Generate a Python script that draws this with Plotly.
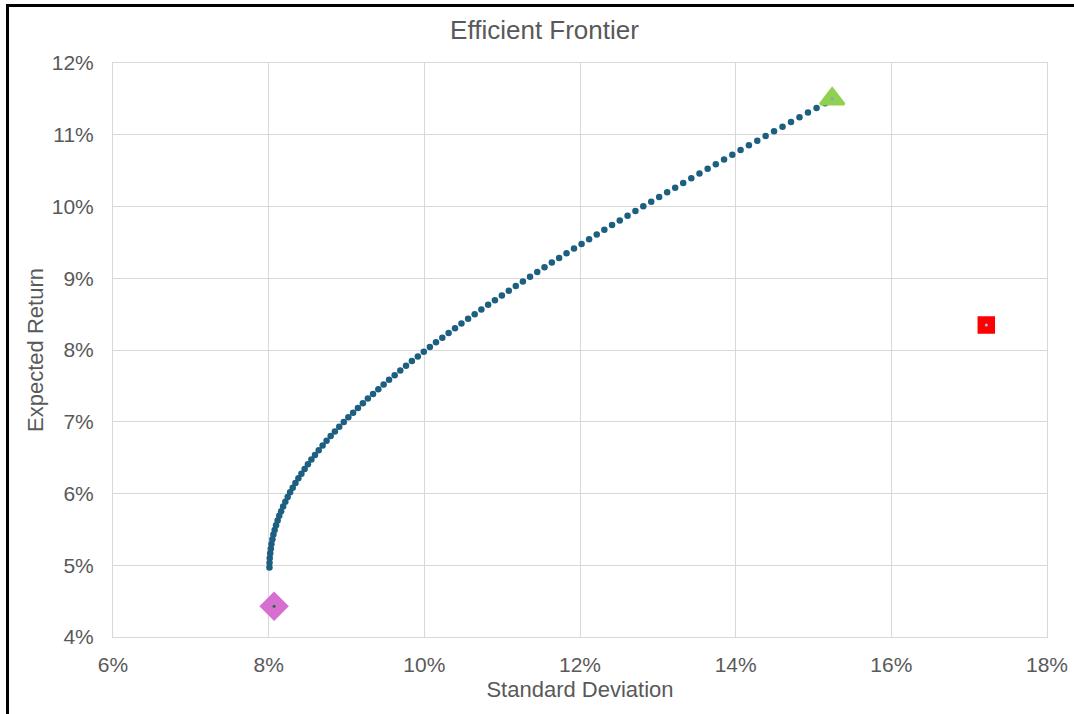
import plotly.graph_objects as go

# Efficient frontier points (values in percent)
frontier_std = [
    8.010, 8.011, 8.014, 8.020, 8.027, 8.036, 8.048, 8.061, 8.077, 8.095,
    8.115, 8.136, 8.160, 8.186, 8.214, 8.244, 8.275, 8.309, 8.344, 8.382,
    8.421, 8.462, 8.504, 8.549, 8.595, 8.643, 8.693, 8.744, 8.797, 8.851,
    8.907, 8.965, 9.024, 9.085, 9.147, 9.210, 9.275, 9.341, 9.409, 9.477,
    9.547, 9.619, 9.691, 9.765, 9.840, 9.916, 9.993, 10.071, 10.150, 10.231,
    10.312, 10.394, 10.477, 10.562, 10.647, 10.733, 10.820, 10.907, 10.996, 11.085,
    11.175, 11.266, 11.358, 11.451, 11.544, 11.638, 11.732, 11.827, 11.923, 12.020,
    12.117, 12.215, 12.313, 12.412, 12.511, 12.611, 12.712, 12.813, 12.915, 13.017,
    13.120, 13.223, 13.326, 13.430, 13.535, 13.640, 13.745, 13.851, 13.957, 14.063,
    14.170, 14.278, 14.385, 14.493, 14.602, 14.711, 14.820, 14.929, 15.039, 15.149,
]
frontier_ret = [
    4.970, 5.035, 5.101, 5.166, 5.231, 5.297, 5.362, 5.427, 5.493, 5.558,
    5.624, 5.689, 5.754, 5.820, 5.885, 5.950, 6.016, 6.081, 6.146, 6.212,
    6.277, 6.342, 6.408, 6.473, 6.538, 6.604, 6.669, 6.734, 6.800, 6.865,
    6.931, 6.996, 7.061, 7.127, 7.192, 7.257, 7.323, 7.388, 7.453, 7.519,
    7.584, 7.649, 7.715, 7.780, 7.845, 7.911, 7.976, 8.041, 8.107, 8.172,
    8.238, 8.303, 8.368, 8.434, 8.499, 8.564, 8.630, 8.695, 8.760, 8.826,
    8.891, 8.956, 9.022, 9.087, 9.152, 9.218, 9.283, 9.348, 9.414, 9.479,
    9.545, 9.610, 9.675, 9.741, 9.806, 9.871, 9.937, 10.002, 10.067, 10.133,
    10.198, 10.263, 10.329, 10.394, 10.459, 10.525, 10.590, 10.655, 10.721, 10.786,
    10.852, 10.917, 10.982, 11.048, 11.113, 11.178, 11.244, 11.309, 11.374, 11.440,
]

# Highlighted portfolios
special_names = ["Minimum Variance", "Maximum Return", "Other Portfolio"]
special_std = [8.07, 15.24, 17.22]
special_ret = [4.43, 11.50, 8.35]

x_ticks = [6, 8, 10, 12, 14, 16, 18]
y_ticks = [4, 5, 6, 7, 8, 9, 10, 11, 12]

FONT = "Liberation Sans, Arial, sans-serif"
GREY = "#595959"
GRID = "#d9d9d9"

fig = go.Figure()

fig.add_trace(go.Scatter(
    x=frontier_std, y=frontier_ret, mode="markers", name="Frontier",
    marker=dict(size=6.5, color="#1d5f80"), showlegend=False,
))

outer_symbols = ["diamond", "triangle-up", "square"]
outer_colors = ["#d76fd1", "#92d050", "#ff0000"]
outer_sizes = [20, 21, 15]
inner_colors = ["#1e6b3a", "#6fa8dc", "#9dc3e6"]

for i in range(len(special_names)):
    fig.add_trace(go.Scatter(
        x=[special_std[i]], y=[special_ret[i]], mode="markers", name=special_names[i],
        marker=dict(size=outer_sizes[i], symbol=outer_symbols[i], color=outer_colors[i],
                    line=dict(color=outer_colors[i], width=2.5)),
        showlegend=False,
    ))
    fig.add_trace(go.Scatter(
        x=[special_std[i]], y=[special_ret[i]], mode="markers", name=special_names[i] + " point",
        marker=dict(size=3, color=inner_colors[i]), showlegend=False,
    ))

fig.update_layout(
    width=1074, height=714, autosize=False,
    margin=dict(l=113, r=27, t=63, b=77, autoexpand=False),
    paper_bgcolor="white", plot_bgcolor="white",
    font=dict(family=FONT, color=GREY),
    title=dict(text="Efficient Frontier", x=0.507, xref="container", xanchor="center",
               y=1 - 30 / 714, yref="container", yanchor="middle",
               font=dict(size=26, color=GREY, family=FONT)),
    xaxis=dict(
        range=[6, 18], tickvals=x_ticks, ticktext=[f"{v}%" for v in x_ticks],
        showgrid=True, gridcolor=GRID, gridwidth=1, zeroline=False,
        showline=True, linecolor=GRID, linewidth=1, mirror=True, automargin=False,
        ticks="", ticklabelstandoff=9,
        tickfont=dict(size=21, color=GREY, family=FONT),
        title=dict(text="Standard Deviation", font=dict(size=22, color=GREY, family=FONT), standoff=6),
    ),
    yaxis=dict(
        range=[4, 12], tickvals=y_ticks, ticktext=[f"{v}%" for v in y_ticks],
        showgrid=True, gridcolor=GRID, gridwidth=1, zeroline=False,
        showline=True, linecolor=GRID, linewidth=1, mirror=True, automargin=False,
        ticks="", ticklabelstandoff=14,
        tickfont=dict(size=21, color=GREY, family=FONT),
        title=dict(text="Expected Return", font=dict(size=22, color=GREY, family=FONT), standoff=2),
    ),
    shapes=[
        dict(type="line", xref="paper", yref="paper",
             x0=(7.5 - 113) / 934, x1=(7.5 - 113) / 934,
             y0=(637 - 720) / 574, y1=(637 - 4) / 574,
             line=dict(color="black", width=3)),
        dict(type="line", xref="paper", yref="paper",
             x0=(6 - 113) / 934, x1=(1080 - 113) / 934,
             y0=(637 - 5.5) / 574, y1=(637 - 5.5) / 574,
             line=dict(color="black", width=3)),
    ],
)

fig.write_html("out.html", config={"displayModeBar": False},
               post_script="document.body.style.margin='0px';")
